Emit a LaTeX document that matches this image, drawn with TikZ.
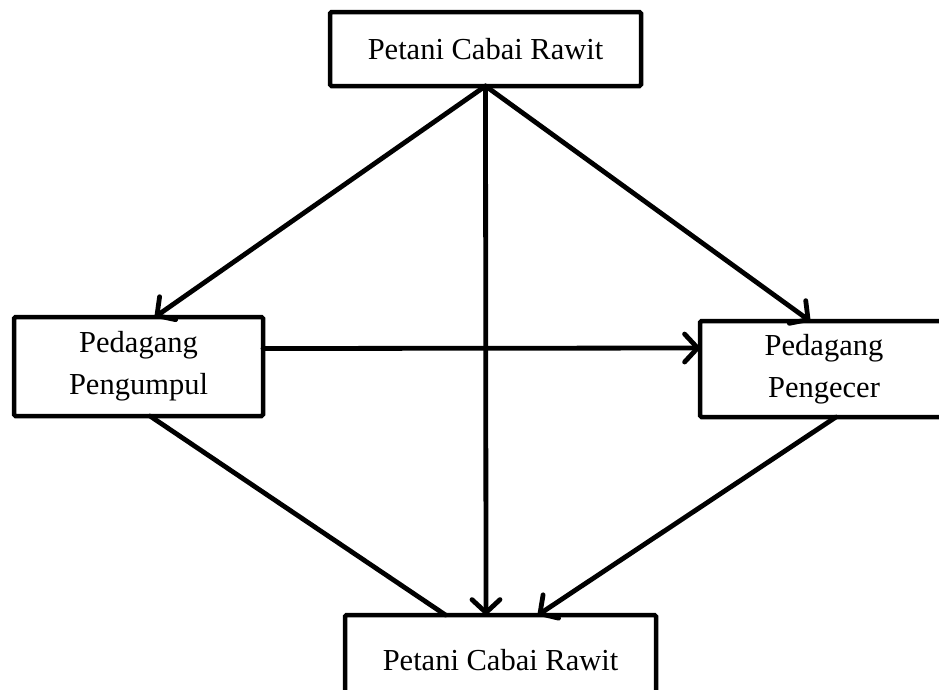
\documentclass[tikz,border=0pt]{standalone}
\usepackage{fontspec}
\setmainfont{Liberation Serif}
\usetikzlibrary{arrows.meta}
\begin{document}
\begin{tikzpicture}[x=1pt,y=-1pt,
  box/.style={draw, line width=4.5pt, rounded corners=1.5pt, inner sep=0pt, outer sep=0pt,
    align=center, font=\fontsize{30.5}{42}\selectfont},
  conn/.style={line width=4.8pt, line cap=round},
  arr/.style={conn, -{Straight Barb[length=13pt,width=28pt,line cap=round,line join=round]}}]
\useasboundingbox (0,0) rectangle (939,689);
\clip (0,0) rectangle (939,689);
\node[box, minimum width=311pt, minimum height=74pt] (top) at (485.5,49) {Petani Cabai Rawit};
\node[box, minimum width=249pt, minimum height=99pt] (left) at (138.5,366.5) {Pedagang\\Pengumpul};
\node[box, minimum width=248pt, minimum height=96pt] (right) at (824,369) {Pedagang\\Pengecer};
\node[box, minimum width=311pt, minimum height=90pt] (bot) at (500.5,660) {Petani Cabai Rawit};
\draw[arr] (top.south) -- ([xshift=16.5pt]left.north);
\draw[arr] (top.south) -- ([xshift=-14pt]right.north);
\draw[arr] (top.south) -- ([xshift=-14.5pt]bot.north);
\draw[arr] ([yshift=18pt]left.east) -- ([yshift=21pt]right.west);
\draw[conn] ([xshift=11.5pt]left.south) -- ([xshift=-55pt]bot.north);
\draw[arr] ([xshift=12pt]right.south) -- ([xshift=37.5pt]bot.north);
\end{tikzpicture}
\end{document}
